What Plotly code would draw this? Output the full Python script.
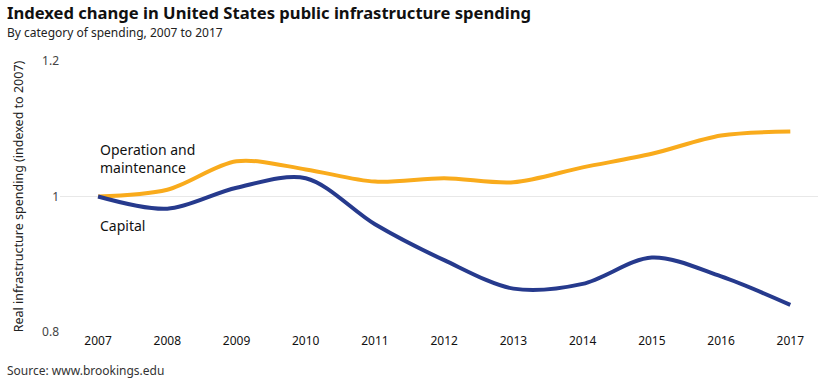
import plotly.graph_objects as go

years = [2007, 2008, 2009, 2010, 2011, 2012, 2013, 2014, 2015, 2016, 2017]
operation_maintenance = [1.000, 1.010, 1.052, 1.040, 1.022, 1.027, 1.021, 1.043, 1.063, 1.090, 1.096]
capital = [1.000, 0.982, 1.013, 1.027, 0.959, 0.906, 0.864, 0.871, 0.910, 0.882, 0.840]
y_ticks = [0.8, 1.0, 1.2]
y_tick_labels = ["0.8", "1", "1.2"]

FONT = "Noto Sans"
ORANGE = "#F9AB1C"
NAVY = "#263A8D"

fig = go.Figure()
fig.add_trace(go.Scatter(x=years, y=operation_maintenance, mode="lines",
                         line=dict(color=ORANGE, width=4, shape="spline", smoothing=0.9),
                         name="Operation and maintenance", hoverinfo="x+y"))
fig.add_trace(go.Scatter(x=years, y=capital, mode="lines",
                         line=dict(color=NAVY, width=4, shape="spline", smoothing=0.9),
                         name="Capital", hoverinfo="x+y"))

fig.update_layout(
    width=830, height=386,
    margin=dict(l=60, r=12, t=61, b=54, autoexpand=False),
    paper_bgcolor="white", plot_bgcolor="white",
    showlegend=False,
    font=dict(family=FONT, color="#222"),
    xaxis=dict(range=[2006.45, 2017.4], tickmode="array", tickvals=years,
               ticktext=[str(y) for y in years], showgrid=False, zeroline=False,
               showline=False, ticks="", automargin=False,
               tickfont=dict(size=12, color="#111")),
    yaxis=dict(range=[0.8, 1.2], tickmode="array", tickvals=y_ticks, ticktext=y_tick_labels,
               showgrid=True, gridcolor="#e8e8e8", gridwidth=1, zeroline=False,
               showline=False, ticks="", automargin=False,
               tickfont=dict(size=12, color="#444"),
               title=dict(text="Real infrastructure spending (indexed to 2007)",
                          font=dict(size=12.5, color="#222"), standoff=15)),
)

fig.add_annotation(text="<b>Indexed change in United States public infrastructure spending</b>",
                   xref="paper", yref="paper", x=-0.072, y=1.0, xanchor="left", yanchor="bottom",
                   yshift=35, showarrow=False, font=dict(size=16.6, color="#111"))
fig.add_annotation(text="By category of spending, 2007 to 2017",
                   xref="paper", yref="paper", x=-0.072, y=1.0, xanchor="left", yanchor="bottom",
                   yshift=18, showarrow=False, font=dict(size=12, color="#222"))
fig.add_annotation(text="Source: www.brookings.edu",
                   xref="paper", yref="paper", x=-0.072, y=0, xanchor="left", yanchor="top",
                   yshift=-28, showarrow=False, font=dict(size=12, color="#333"))
fig.add_annotation(text="Operation and<br>maintenance", xref="x", yref="y",
                   x=2007, y=1.056, xanchor="left", yanchor="middle", align="left",
                   showarrow=False, font=dict(size=14, color="#111"))
fig.add_annotation(text="Capital", xref="x", yref="y",
                   x=2007, y=0.957, xanchor="left", yanchor="middle", align="left",
                   showarrow=False, font=dict(size=14, color="#111"))

fig.write_html("out.html", config={"displayModeBar": False},
               post_script="document.body.style.margin='0px';document.body.style.overflow='hidden';")
